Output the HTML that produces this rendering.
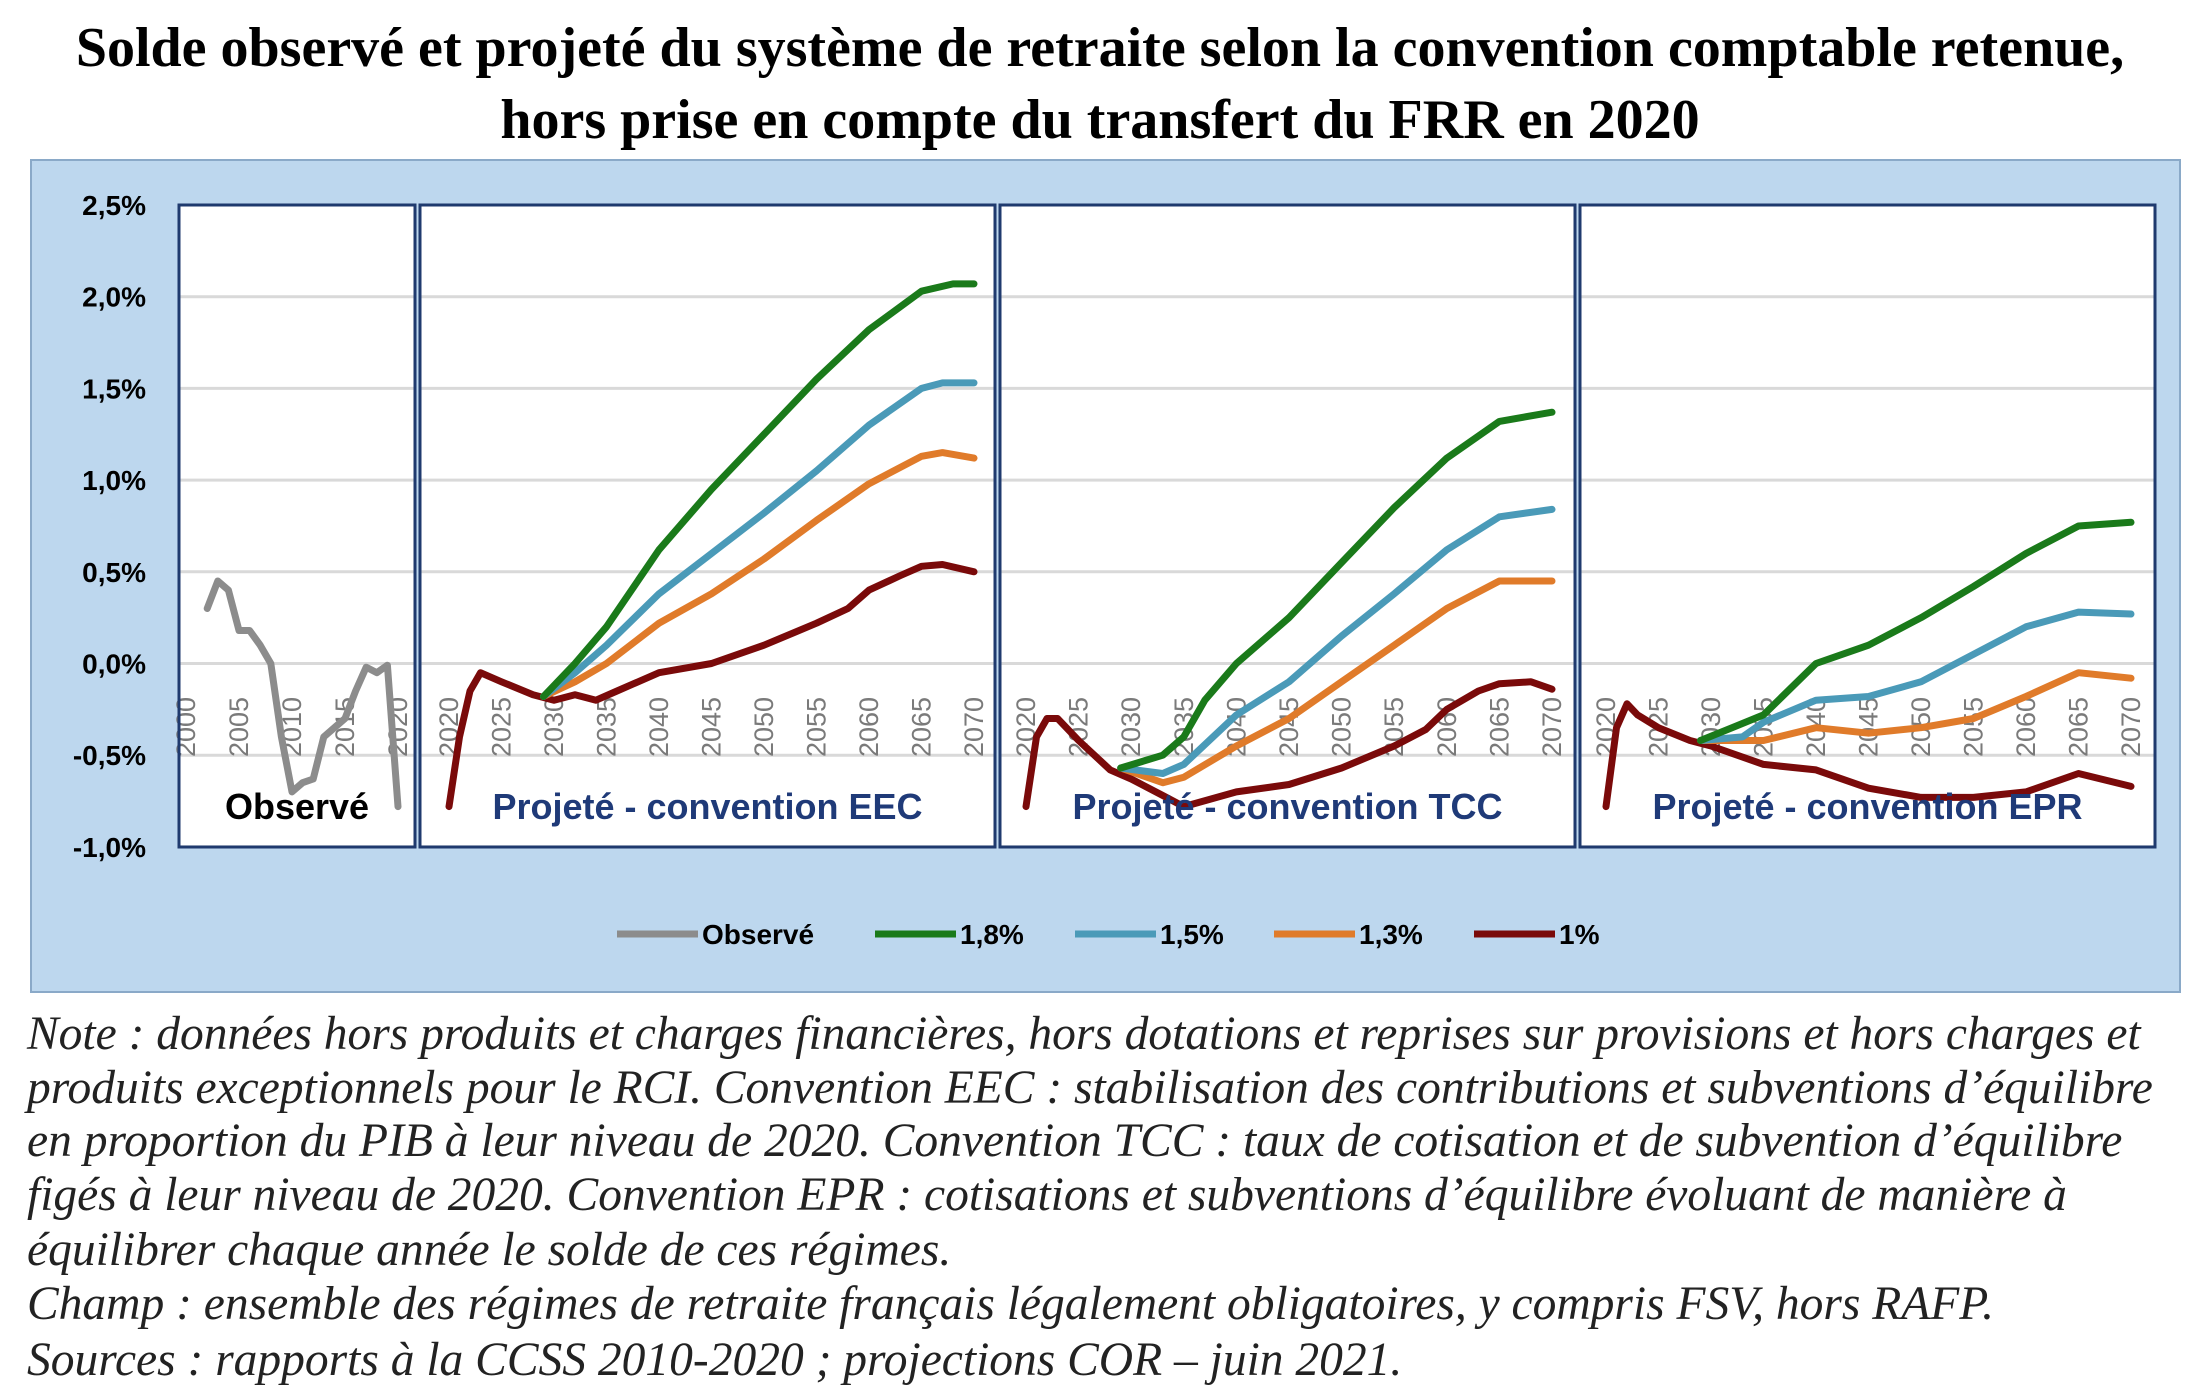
<!DOCTYPE html>
<html><head><meta charset="utf-8"><style>
body{margin:0;width:2200px;height:1387px;background:#fff;overflow:hidden;font-family:"Liberation Sans",sans-serif}
.t{position:absolute;left:0;width:2200px;text-align:center;font-family:"Liberation Serif",serif;font-weight:bold;font-size:56px;color:#000;white-space:nowrap;line-height:60px}
.n{position:absolute;left:27px;font-family:"Liberation Serif",serif;font-style:italic;font-size:47.5px;color:#222;white-space:nowrap;line-height:52px}
</style></head><body>
<div class="t" style="top:18px">Solde observé et projeté du système de retraite selon la convention comptable retenue,</div>
<div class="t" style="top:90px">hors prise en compte du transfert du FRR en 2020</div>
<svg id="s" width="2200" height="1387" style="position:absolute;left:0;top:0"></svg>
<div class="n" style="top:1008px">Note : données hors produits et charges financières, hors dotations et reprises sur provisions et hors charges et</div>
<div class="n" style="top:1062px">produits exceptionnels pour le RCI. Convention EEC : stabilisation des contributions et subventions d’équilibre</div>
<div class="n" style="top:1115px">en proportion du PIB à leur niveau de 2020. Convention TCC : taux de cotisation et de subvention d’équilibre</div>
<div class="n" style="top:1169px">figés à leur niveau de 2020. Convention EPR : cotisations et subventions d’équilibre évoluant de manière à</div>
<div class="n" style="top:1224px">équilibrer chaque année le solde de ces régimes.</div>
<div class="n" style="top:1278px">Champ : ensemble des régimes de retraite français légalement obligatoires, y compris FSV, hors RAFP.</div>
<div class="n" style="top:1334px">Sources : rapports à la CCSS 2010-2020 ; projections COR – juin 2021.</div>
<script>
const s=document.getElementById('s');let h='';
const Y=v=>205+(2.5-v)*183.4;
h+='<rect x="31" y="160" width="2149" height="832" fill="#bdd7ee" stroke="#8aa9c8" stroke-width="2"/>';
const panels=[[179,415,186,398,2000,2020],[420,995,449,974,2020,2070],[1000,1575,1026,1552,2020,2070],[1580,2155,1606,2131,2020,2070]];
const G="#1a7a1a",T="#4a9ab8",O="#e07b2a",R="#7a0a0a",Gr="#8c8c8c";
const lbl=["Observé","Projeté - convention EEC","Projeté - convention TCC","Projeté - convention EPR"];
panels.forEach((p,i)=>{
 h+=`<rect x="${p[0]}" y="205" width="${p[1]-p[0]}" height="642" fill="#fff"/>`;
 for(let k=0;k<8;k++){h+=`<line x1="${p[0]}" x2="${p[1]}" y1="${Y(2.5-k*0.5)}" y2="${Y(2.5-k*0.5)}" stroke="#d9d9d9" stroke-width="3"/>`;}
 for(let yr=p[4];yr<=p[5];yr+=5){const x=p[2]+(yr-p[4])/(p[5]-p[4])*(p[3]-p[2]);
  h+=`<text transform="translate(${x+9},757) rotate(-90)" font-size="27" fill="#7a7a7a">${yr}</text>`;}
});
const d={
0:[[Gr,[[2002,.3],[2003,.45],[2004,.4],[2005,.18],[2006,.18],[2007,.1],[2008,0],[2009,-.4],[2010,-.7],[2011,-.65],[2012,-.63],[2013,-.4],[2014,-.35],[2015,-.3],[2016,-.15],[2017,-.02],[2018,-.05],[2019,-.01],[2020,-.78]]]],
1:[[R,[[2020,-.78],[2021,-.4],[2022,-.15],[2023,-.05],[2025,-.1],[2028,-.17],[2030,-.2],[2032,-.17],[2034,-.2],[2036,-.15],[2040,-.05],[2045,0],[2050,.1],[2055,.22],[2058,.3],[2060,.4],[2063,.48],[2065,.53],[2067,.54],[2070,.5]]],
 [O,[[2029,-.18],[2032,-.1],[2035,0],[2040,.22],[2045,.38],[2050,.57],[2055,.78],[2060,.98],[2065,1.13],[2067,1.15],[2070,1.12]]],
 [T,[[2029,-.18],[2032,-.05],[2035,.1],[2040,.38],[2045,.6],[2050,.82],[2055,1.05],[2060,1.3],[2065,1.5],[2067,1.53],[2070,1.53]]],
 [G,[[2029,-.18],[2032,0],[2035,.2],[2040,.62],[2045,.95],[2050,1.25],[2055,1.55],[2060,1.82],[2065,2.03],[2068,2.07],[2070,2.07]]]],
2:[[R,[[2020,-.78],[2021,-.4],[2022,-.3],[2023,-.3],[2025,-.42],[2028,-.58],[2030,-.63],[2033,-.72],[2035,-.78],[2040,-.7],[2045,-.66],[2050,-.57],[2055,-.45],[2058,-.36],[2060,-.25],[2063,-.15],[2065,-.11],[2068,-.1],[2070,-.14]]],
 [O,[[2029,-.57],[2033,-.65],[2035,-.62],[2040,-.45],[2045,-.3],[2050,-.1],[2055,.1],[2060,.3],[2065,.45],[2070,.45]]],
 [T,[[2029,-.57],[2033,-.6],[2035,-.55],[2040,-.28],[2045,-.1],[2050,.15],[2055,.38],[2060,.62],[2065,.8],[2070,.84]]],
 [G,[[2029,-.57],[2033,-.5],[2035,-.4],[2037,-.2],[2040,0],[2045,.25],[2050,.55],[2055,.85],[2060,1.12],[2065,1.32],[2070,1.37]]]],
3:[[R,[[2020,-.78],[2021,-.35],[2022,-.22],[2023,-.28],[2025,-.35],[2028,-.42],[2030,-.45],[2035,-.55],[2040,-.58],[2045,-.68],[2050,-.73],[2055,-.73],[2060,-.7],[2065,-.6],[2070,-.67]]],
 [O,[[2029,-.42],[2035,-.42],[2040,-.35],[2045,-.38],[2050,-.35],[2055,-.3],[2060,-.18],[2065,-.05],[2070,-.08]]],
 [T,[[2029,-.42],[2033,-.4],[2035,-.32],[2040,-.2],[2045,-.18],[2050,-.1],[2055,.05],[2060,.2],[2065,.28],[2070,.27]]],
 [G,[[2029,-.42],[2032,-.35],[2035,-.28],[2040,0],[2045,.1],[2050,.25],[2055,.42],[2060,.6],[2065,.75],[2070,.77]]]]};
panels.forEach((p,i)=>{
 d[i].forEach(([c,pts])=>{const q=pts.map(([yr,v])=>[(p[2]+(yr-p[4])/(p[5]-p[4])*(p[3]-p[2])).toFixed(1),Y(v).toFixed(1)].join(',')).join(' ');
  h+=`<polyline points="${q}" fill="none" stroke="${c}" stroke-width="7" stroke-linejoin="round" stroke-linecap="round"/>`;});
 h+=`<text x="${(p[0]+p[1])/2}" y="819" text-anchor="middle" font-size="36" font-weight="bold" fill="${i?'#1f3a78':'#000'}">${lbl[i]}</text>`;
 h+=`<rect x="${p[0]}" y="205" width="${p[1]-p[0]}" height="642" fill="none" stroke="#1f3a6e" stroke-width="3"/>`;
});
["2,5%","2,0%","1,5%","1,0%","0,5%","0,0%","-0,5%","-1,0%"].forEach((t,k)=>{h+=`<text x="146" y="${Y(2.5-k*0.5)+10}" text-anchor="end" font-size="28" font-weight="bold" fill="#000">${t}</text>`;});
[[617,Gr,"Observé"],[875,G,"1,8%"],[1075,T,"1,5%"],[1274,O,"1,3%"],[1474,R,"1%"]].forEach(([x,c,t])=>{
 h+=`<line x1="${x}" x2="${x+81}" y1="934" y2="934" stroke="${c}" stroke-width="7"/><text x="${x+85}" y="944" font-size="28" font-weight="bold">${t}</text>`;});
s.innerHTML=h;
</script>
</body></html>
